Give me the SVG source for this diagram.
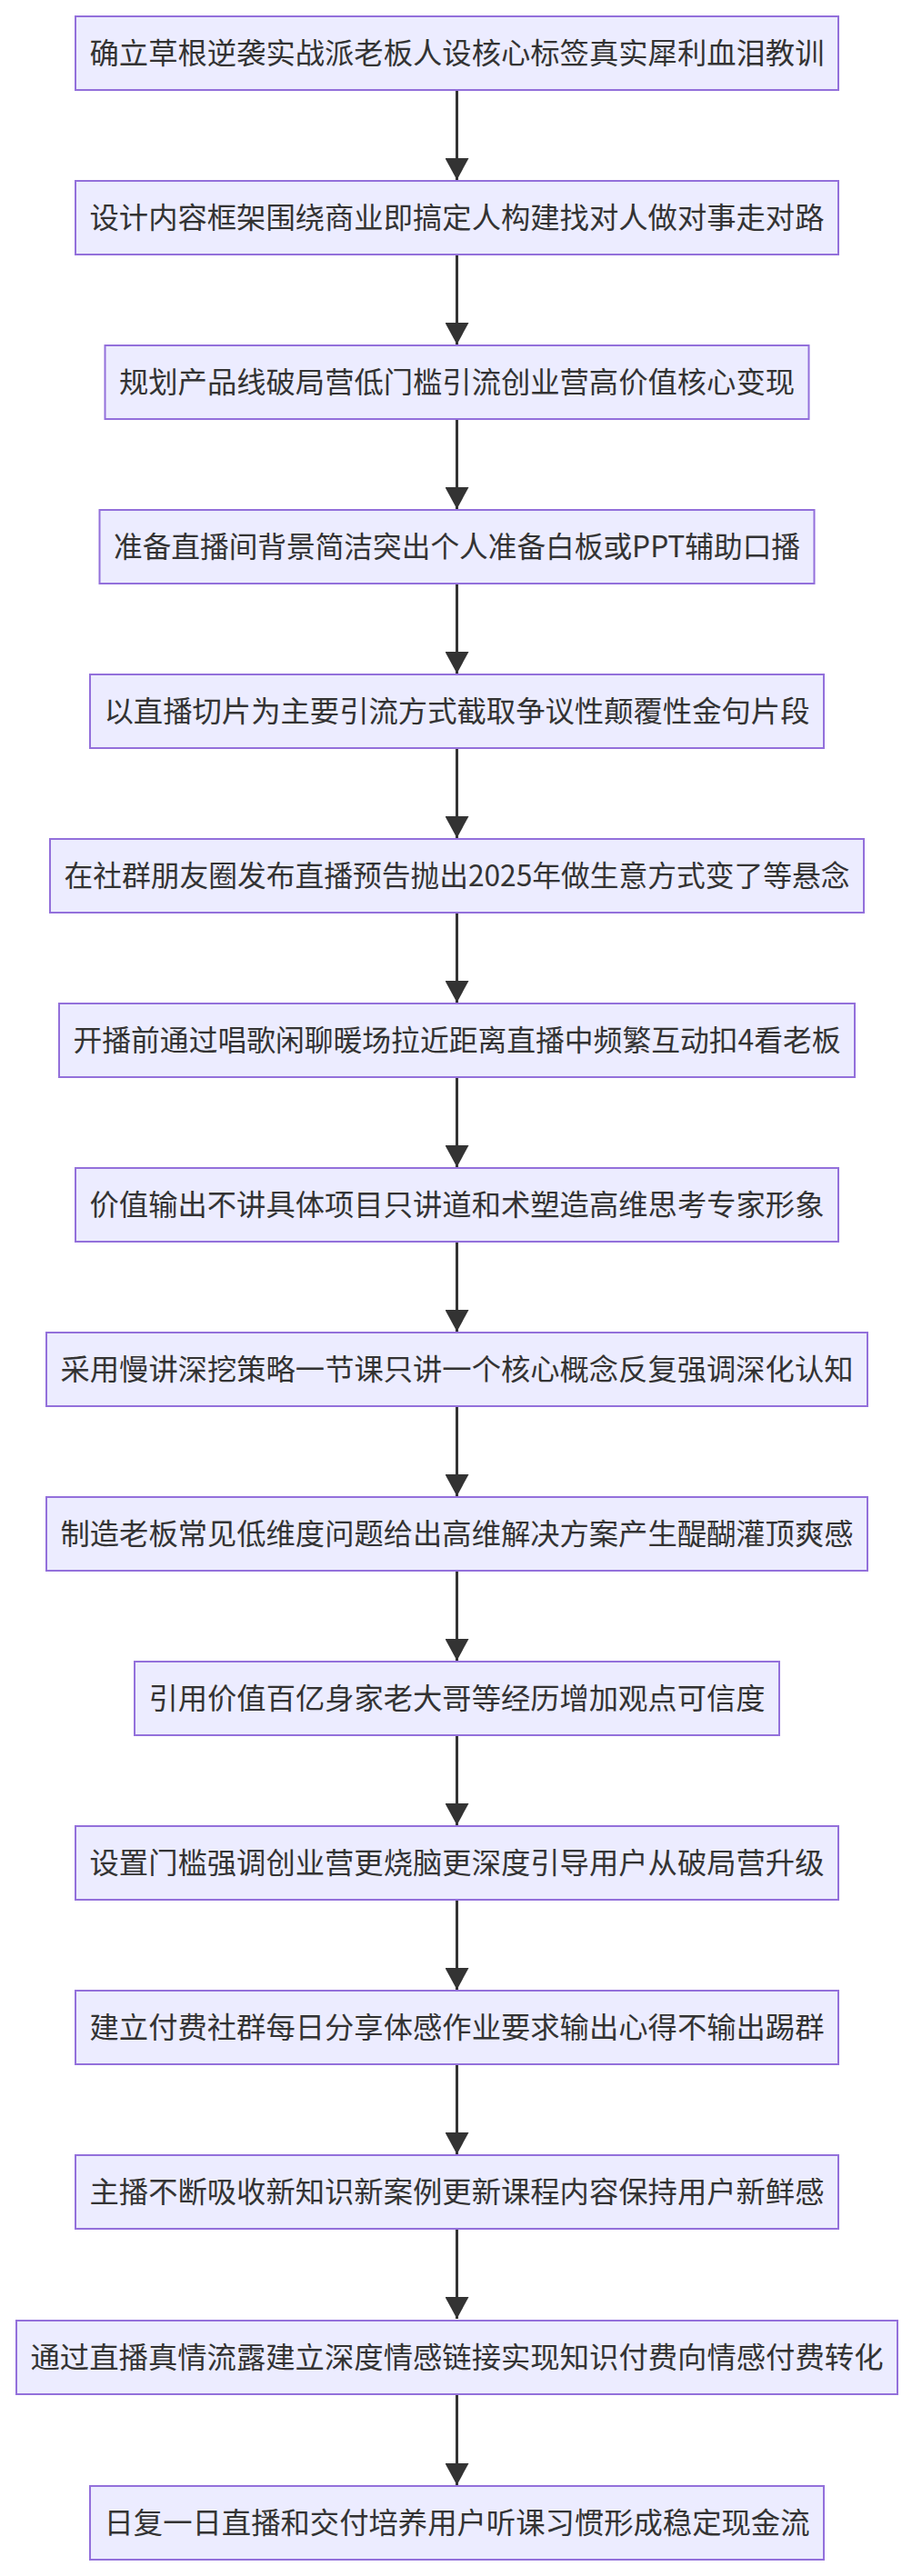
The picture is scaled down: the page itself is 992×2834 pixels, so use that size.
<svg xmlns="http://www.w3.org/2000/svg" width="992" height="2834" viewBox="0 0 992 2834">
<style>
.n rect{fill:#ECECFF;stroke:#9370DB;stroke-width:2}
.n text{font-family:"Noto Sans CJK SC","Liberation Sans",sans-serif;font-size:32px;fill:#333;text-anchor:middle}
.e line{stroke:#333;stroke-width:3}
</style>
<defs><marker id="a" viewBox="0 0 12 12" refX="12" refY="6" markerWidth="8" markerHeight="8" markerUnits="userSpaceOnUse" orient="auto"><path d="M0,0L12,6L0,12z" fill="#333"/></marker>
<marker id="ah" viewBox="0 0 10 10" refX="10" refY="5" markerWidth="24" markerHeight="26" markerUnits="userSpaceOnUse" orient="auto" preserveAspectRatio="none"><path d="M0,0L10,5L0,10z" fill="#333"/></marker></defs>
<rect width="992" height="2834" fill="#fff"/>
<g class="e">
<line x1="502.5" y1="99" x2="502.5" y2="198" marker-end="url(#ah)"/>
<line x1="502.5" y1="280" x2="502.5" y2="379" marker-end="url(#ah)"/>
<line x1="502.5" y1="461" x2="502.5" y2="560" marker-end="url(#ah)"/>
<line x1="502.5" y1="642" x2="502.5" y2="741" marker-end="url(#ah)"/>
<line x1="502.5" y1="823" x2="502.5" y2="922" marker-end="url(#ah)"/>
<line x1="502.5" y1="1004" x2="502.5" y2="1103" marker-end="url(#ah)"/>
<line x1="502.5" y1="1185" x2="502.5" y2="1284" marker-end="url(#ah)"/>
<line x1="502.5" y1="1366" x2="502.5" y2="1465" marker-end="url(#ah)"/>
<line x1="502.5" y1="1547" x2="502.5" y2="1646" marker-end="url(#ah)"/>
<line x1="502.5" y1="1728" x2="502.5" y2="1827" marker-end="url(#ah)"/>
<line x1="502.5" y1="1909" x2="502.5" y2="2008" marker-end="url(#ah)"/>
<line x1="502.5" y1="2090" x2="502.5" y2="2189" marker-end="url(#ah)"/>
<line x1="502.5" y1="2271" x2="502.5" y2="2370" marker-end="url(#ah)"/>
<line x1="502.5" y1="2452" x2="502.5" y2="2551" marker-end="url(#ah)"/>
<line x1="502.5" y1="2633" x2="502.5" y2="2734" marker-end="url(#ah)"/>
</g>
<g id="n0" class="n"><rect x="83" y="18" width="839" height="81"/><text x="502.5" y="70" textLength="808" lengthAdjust="spacingAndGlyphs">确立草根逆袭实战派老板人设核心标签真实犀利血泪教训</text></g>
<g id="n1" class="n"><rect x="83" y="199" width="839" height="81"/><text x="502.5" y="251" textLength="808" lengthAdjust="spacingAndGlyphs">设计内容框架围绕商业即搞定人构建找对人做对事走对路</text></g>
<g id="n2" class="n"><rect x="115.5" y="380" width="774" height="81"/><text x="502.5" y="432" textLength="743" lengthAdjust="spacingAndGlyphs">规划产品线破局营低门槛引流创业营高价值核心变现</text></g>
<g id="n3" class="n"><rect x="109.5" y="561" width="786" height="81"/><text x="502.5" y="613" textLength="755" lengthAdjust="spacingAndGlyphs">准备直播间背景简洁突出个人准备白板或PPT辅助口播</text></g>
<g id="n4" class="n"><rect x="99" y="742" width="807" height="81"/><text x="502.5" y="794" textLength="776" lengthAdjust="spacingAndGlyphs">以直播切片为主要引流方式截取争议性颠覆性金句片段</text></g>
<g id="n5" class="n"><rect x="55" y="923" width="895" height="81"/><text x="502.5" y="975" textLength="864" lengthAdjust="spacingAndGlyphs">在社群朋友圈发布直播预告抛出2025年做生意方式变了等悬念</text></g>
<g id="n6" class="n"><rect x="65" y="1104" width="875" height="81"/><text x="502.5" y="1156" textLength="844" lengthAdjust="spacingAndGlyphs">开播前通过唱歌闲聊暖场拉近距离直播中频繁互动扣4看老板</text></g>
<g id="n7" class="n"><rect x="83" y="1285" width="839" height="81"/><text x="502.5" y="1337" textLength="808" lengthAdjust="spacingAndGlyphs">价值输出不讲具体项目只讲道和术塑造高维思考专家形象</text></g>
<g id="n8" class="n"><rect x="51" y="1466" width="903" height="81"/><text x="502.5" y="1518" textLength="872" lengthAdjust="spacingAndGlyphs">采用慢讲深挖策略一节课只讲一个核心概念反复强调深化认知</text></g>
<g id="n9" class="n"><rect x="51" y="1647" width="903" height="81"/><text x="502.5" y="1699" textLength="872" lengthAdjust="spacingAndGlyphs">制造老板常见低维度问题给出高维解决方案产生醍醐灌顶爽感</text></g>
<g id="n10" class="n"><rect x="148" y="1828" width="709" height="81"/><text x="502.5" y="1880" textLength="678" lengthAdjust="spacingAndGlyphs">引用价值百亿身家老大哥等经历增加观点可信度</text></g>
<g id="n11" class="n"><rect x="83" y="2009" width="839" height="81"/><text x="502.5" y="2061" textLength="808" lengthAdjust="spacingAndGlyphs">设置门槛强调创业营更烧脑更深度引导用户从破局营升级</text></g>
<g id="n12" class="n"><rect x="83" y="2190" width="839" height="81"/><text x="502.5" y="2242" textLength="808" lengthAdjust="spacingAndGlyphs">建立付费社群每日分享体感作业要求输出心得不输出踢群</text></g>
<g id="n13" class="n"><rect x="83" y="2371" width="839" height="81"/><text x="502.5" y="2423" textLength="808" lengthAdjust="spacingAndGlyphs">主播不断吸收新知识新案例更新课程内容保持用户新鲜感</text></g>
<g id="n14" class="n"><rect x="18" y="2553" width="969" height="81"/><text x="502.5" y="2605" textLength="938" lengthAdjust="spacingAndGlyphs">通过直播真情流露建立深度情感链接实现知识付费向情感付费转化</text></g>
<g id="n15" class="n"><rect x="99" y="2735" width="807" height="81"/><text x="502.5" y="2787" textLength="776" lengthAdjust="spacingAndGlyphs">日复一日直播和交付培养用户听课习惯形成稳定现金流</text></g>
</svg>
